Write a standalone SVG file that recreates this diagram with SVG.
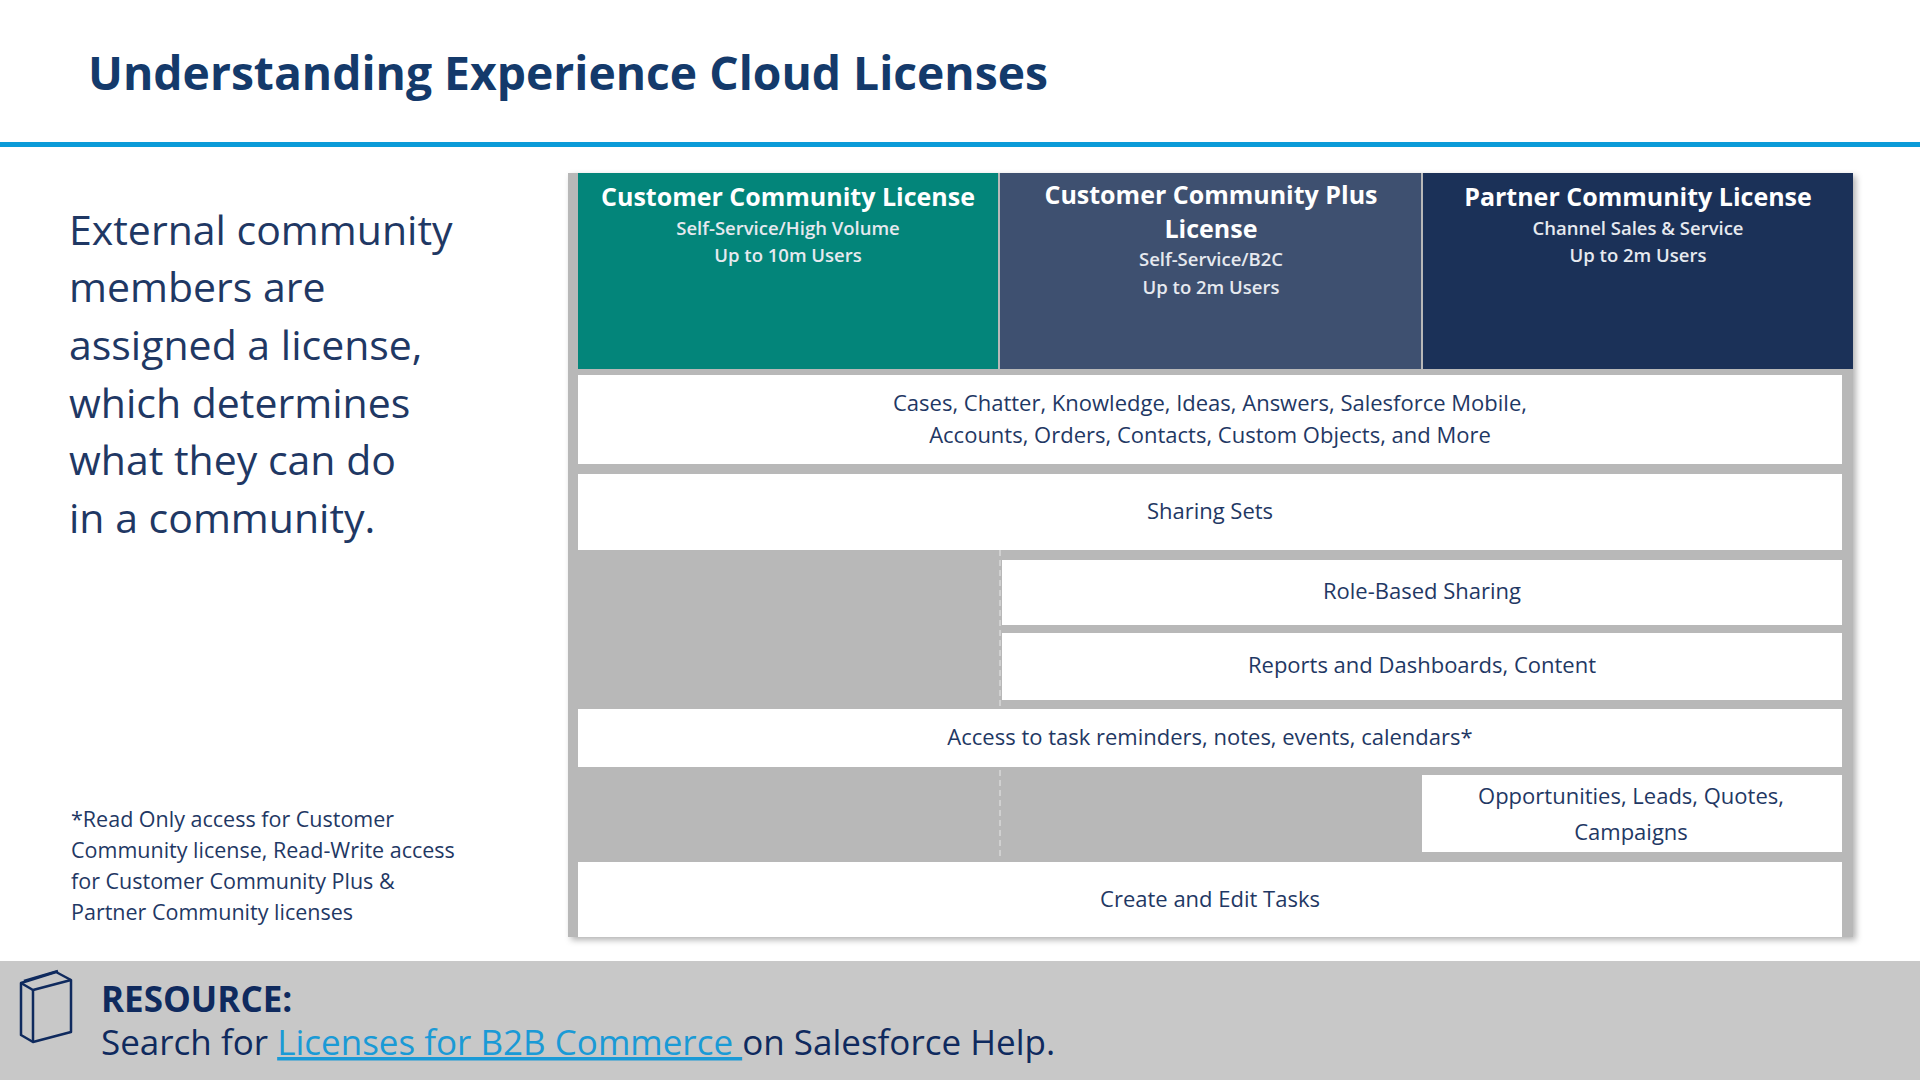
<svg xmlns="http://www.w3.org/2000/svg" width="1920" height="1080" viewBox="0 0 1920 1080">
<style>
text{font-family:"Open Sans","Noto Sans",sans-serif;fill:#1f3864}
.hd{fill:#fff;font-weight:700;font-size:25px;text-anchor:middle}
.sb{fill:#e6e9ef;font-weight:600;font-size:18.5px;text-anchor:middle}
.rw{font-size:22px;text-anchor:middle}
.lt{font-size:41px}
.fn{font-size:21.5px}
.cell{fill:#fff}
</style>
<defs><filter id="sh" x="-5%" y="-5%" width="110%" height="110%"><feDropShadow dx="3" dy="3" stdDeviation="3" flood-color="#000" flood-opacity="0.3"/></filter></defs>
<rect width="1920" height="1080" fill="#fff"/>
<text x="88" y="90" font-size="46" font-weight="700" textLength="960" lengthAdjust="spacingAndGlyphs" style="fill:#143a6b">Understanding Experience Cloud Licenses</text>
<rect x="0" y="142" width="1920" height="5" fill="#0b9bd8"/>
<g id="intro">
<text class="lt" x="69" y="245">External community</text>
<text class="lt" x="69" y="302">members are</text>
<text class="lt" x="69" y="360">assigned a license,</text>
<text class="lt" x="69" y="418">which determines</text>
<text class="lt" x="69" y="475">what they can do</text>
<text class="lt" x="69" y="533">in a community.</text>
</g>
<g id="footnote">
<text class="fn" x="71" y="827">*Read Only access for Customer</text>
<text class="fn" x="71" y="858">Community license, Read-Write access</text>
<text class="fn" x="71" y="889">for Customer Community Plus &amp;</text>
<text class="fn" x="71" y="920">Partner Community licenses</text>
</g>
<rect x="568" y="173" width="1285" height="764" fill="#b8b8b8" filter="url(#sh)"/>
<line x1="1000" y1="550" x2="1000" y2="860" stroke="#d0d0d0" stroke-width="2" stroke-dasharray="6 4"/>
<g id="h1"><rect x="578" y="173" width="420" height="196" fill="#03857a"/>
<text class="hd" x="788" y="206">Customer Community License</text>
<text class="sb" x="788" y="235">Self-Service/High Volume</text>
<text class="sb" x="788" y="262">Up to 10m Users</text></g>
<g id="h2"><rect x="1000" y="173" width="421" height="196" fill="#3e5070"/>
<text class="hd" x="1211" y="204">Customer Community Plus</text>
<text class="hd" x="1211" y="238">License</text>
<text class="sb" x="1211" y="266">Self-Service/B2C</text>
<text class="sb" x="1211" y="294">Up to 2m Users</text></g>
<g id="h3"><rect x="1423" y="173" width="430" height="196" fill="#1b3158"/>
<text class="hd" x="1638" y="206">Partner Community License</text>
<text class="sb" x="1638" y="235">Channel Sales &amp; Service</text>
<text class="sb" x="1638" y="262">Up to 2m Users</text></g>
<g id="r1"><rect class="cell" x="578" y="375" width="1264" height="89"/>
<text class="rw" x="1210" y="411">Cases, Chatter, Knowledge, Ideas, Answers, Salesforce Mobile,</text>
<text class="rw" x="1210" y="443">Accounts, Orders, Contacts, Custom Objects, and More</text></g>
<g id="r2"><rect class="cell" x="578" y="474" width="1264" height="76"/>
<text class="rw" x="1210" y="519">Sharing Sets</text></g>
<g id="r3"><rect class="cell" x="1002" y="560" width="840" height="65"/>
<text class="rw" x="1422" y="599">Role-Based Sharing</text></g>
<g id="r4"><rect class="cell" x="1002" y="633" width="840" height="67"/>
<text class="rw" x="1422" y="673">Reports and Dashboards, Content</text></g>
<g id="r5"><rect class="cell" x="578" y="709" width="1264" height="58"/>
<text class="rw" x="1210" y="745">Access to task reminders, notes, events, calendars*</text></g>
<g id="r6"><rect class="cell" x="1422" y="775" width="420" height="77"/>
<text class="rw" x="1631" y="804">Opportunities, Leads, Quotes,</text>
<text class="rw" x="1631" y="840">Campaigns</text></g>
<g id="r7"><rect class="cell" x="578" y="862" width="1264" height="75"/>
<text class="rw" x="1210" y="907">Create and Edit Tasks</text></g>
<rect x="0" y="961" width="1920" height="119" fill="#c8c8c8"/>
<g id="book" fill="none" stroke="#0f2a5e" stroke-width="2.5" stroke-linejoin="round">
<path d="M21 983 L56 972 L71 980 L71 1032 L33 1042 L21 1035 Z"/>
<path d="M21 983 L33 990 L71 980"/>
<path d="M33 990 L33 1042"/>
<path d="M24 981 L58 971"/>
</g>
<g id="resource">
<text x="101" y="1012" font-size="35" font-weight="700" style="fill:#0f2a5e">RESOURCE:</text>
<text x="101" y="1055" font-size="35" style="fill:#0f2a5e">Search for <tspan style="fill:#1a9ad6" text-decoration="underline">Licenses for B2B Commerce </tspan>on Salesforce Help.</text>
</g>
</svg>
